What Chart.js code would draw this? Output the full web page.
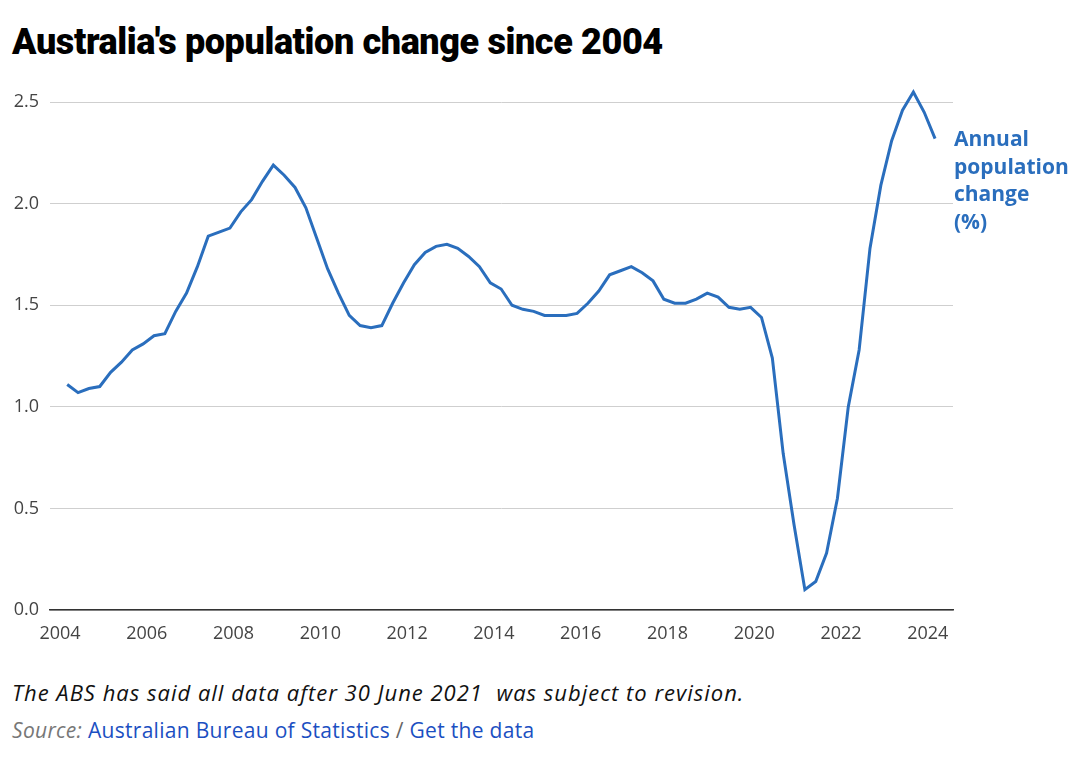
<!DOCTYPE html>
<html>
<head>
<meta charset="utf-8">
<script src="https://cdn.jsdelivr.net/npm/chart.js@4"></script>
<style>
  html, body { margin: 0; padding: 0; background: #fff; }
  body { width: 1080px; height: 764px; position: relative; overflow: hidden; font-family: "Open Sans", sans-serif; }
  #title { position: absolute; left: 12px; top: 21px; margin: 0; font-family: "Roboto", sans-serif; font-size: 36px; font-weight: 900; color: #000; letter-spacing: -0.4px; line-height: 42px; }
  #chartBox { position: absolute; left: 0; top: 60px; width: 1080px; height: 592px; }
  #seriesLabel { position: absolute; left: 954px; top: 125px; font-size: 21px; font-weight: 700; line-height: 27.7px; color: #2a6ebd; }
  #note { position: absolute; left: 12px; top: 677px; font-size: 22px; font-style: italic; color: #111; letter-spacing: 1px; }
  #source { position: absolute; left: 12px; top: 716px; font-size: 21px; color: #666; letter-spacing: 0.3px; }
  #source em { color: #777; }
  #source a { color: #1b4fc2; text-decoration: none; }
</style>
</head>
<body>
<h1 id="title">Australia's population change since 2004</h1>
<div id="chartBox"><canvas id="popChart"></canvas></div>
<div id="seriesLabel">Annual<br>population<br>change<br>(%)</div>
<div id="note">The ABS has said all data after 30 June 2021&nbsp; was subject to revision.</div>
<div id="source"><em>Source:</em> <a>Australian Bureau of Statistics</a> / <a>Get the data</a></div>

<script>
// --- Data (quarterly) ---
const quarters = [
  '2004-03', '2004-06', '2004-09', '2004-12',
  '2005-03', '2005-06', '2005-09', '2005-12',
  '2006-03', '2006-06', '2006-09', '2006-12',
  '2007-03', '2007-06', '2007-09', '2007-12',
  '2008-03', '2008-06', '2008-09', '2008-12',
  '2009-03', '2009-06', '2009-09', '2009-12',
  '2010-03', '2010-06', '2010-09', '2010-12',
  '2011-03', '2011-06', '2011-09', '2011-12',
  '2012-03', '2012-06', '2012-09', '2012-12',
  '2013-03', '2013-06', '2013-09', '2013-12',
  '2014-03', '2014-06', '2014-09', '2014-12',
  '2015-03', '2015-06', '2015-09', '2015-12',
  '2016-03', '2016-06', '2016-09', '2016-12',
  '2017-03', '2017-06', '2017-09', '2017-12',
  '2018-03', '2018-06', '2018-09', '2018-12',
  '2019-03', '2019-06', '2019-09', '2019-12',
  '2020-03', '2020-06', '2020-09', '2020-12',
  '2021-03', '2021-06', '2021-09', '2021-12',
  '2022-03', '2022-06', '2022-09', '2022-12',
  '2023-03', '2023-06', '2023-09', '2023-12',
  '2024-03'
];

const popChange = [
  1.11, 1.07, 1.09, 1.10,
  1.17, 1.22, 1.28, 1.31,
  1.35, 1.36, 1.47, 1.56,
  1.69, 1.84, 1.86, 1.88,
  1.96, 2.02, 2.11, 2.19,
  2.14, 2.08, 1.98, 1.83,
  1.68, 1.56, 1.45, 1.40,
  1.39, 1.40, 1.51, 1.61,
  1.70, 1.76, 1.79, 1.80,
  1.78, 1.74, 1.69, 1.61,
  1.58, 1.50, 1.48, 1.47,
  1.45, 1.45, 1.45, 1.46,
  1.51, 1.57, 1.65, 1.67,
  1.69, 1.66, 1.62, 1.53,
  1.51, 1.51, 1.53, 1.56,
  1.54, 1.49, 1.48, 1.49,
  1.44, 1.24, 0.77, 0.42,
  0.10, 0.14, 0.28, 0.55,
  1.00, 1.28, 1.78, 2.09,
  2.31, 2.46, 2.55, 2.45,
  2.32
];

const xTickYears = [2004, 2006, 2008, 2010, 2012, 2014, 2016, 2018, 2020, 2022, 2024];
const yTickValues = [0, 0.5, 1.0, 1.5, 2.0, 2.5];

// --- Helpers ---
const toDecimalYear = (q) => {
    const [y, m] = q.split('-').map(Number);
    return y + (m - 1) / 12;
};

const points = quarters.map((q, i) => ({ x: toDecimalYear(q), y: popChange[i] }));

const ctx = document.getElementById('popChart').getContext('2d');

new Chart(ctx, {
    type: 'line',
    data: {
        datasets: [{
            label: 'Annual population change (%)',
            data: points,
            borderColor: '#2a6ebd',
            borderWidth: 3,
            pointRadius: 0,
            tension: 0,
            fill: false,
        }]
    },
    options: {
        responsive: true,
        maintainAspectRatio: false,
        animation: false,
        layout: { padding: { left: 0, right: 127, top: 2, bottom: 0 } },
        plugins: { legend: { display: false }, tooltip: { enabled: false } },
        scales: {
            x: {
                type: 'linear',
                min: 2003.77,
                max: 2024.58,
                afterBuildTicks: (scale) => { scale.ticks = xTickYears.map(v => ({ value: v })); },
                afterFit: (scale) => { scale.height = 42; },
                grid: { display: false, drawTicks: false },
                border: { display: true, color: '#333', width: 1.5 },
                ticks: {
                    padding: 13,
                    color: '#444',
                    font: { family: 'Open Sans', size: 18 },
                    callback: (v) => String(v),
                }
            },
            y: {
                min: 0,
                max: 2.6,
                afterBuildTicks: (scale) => { scale.ticks = yTickValues.map(v => ({ value: v })); },
                afterFit: (scale) => { scale.width = 50; },
                grid: { color: '#cfcfcf', lineWidth: 1, drawTicks: false },
                border: { display: false },
                ticks: {
                    padding: 11,
                    color: '#444',
                    font: { family: 'Open Sans', size: 18 },
                    callback: (v) => v.toFixed(1),
                }
            }
        }
    }
});
</script>
</body>
</html>
